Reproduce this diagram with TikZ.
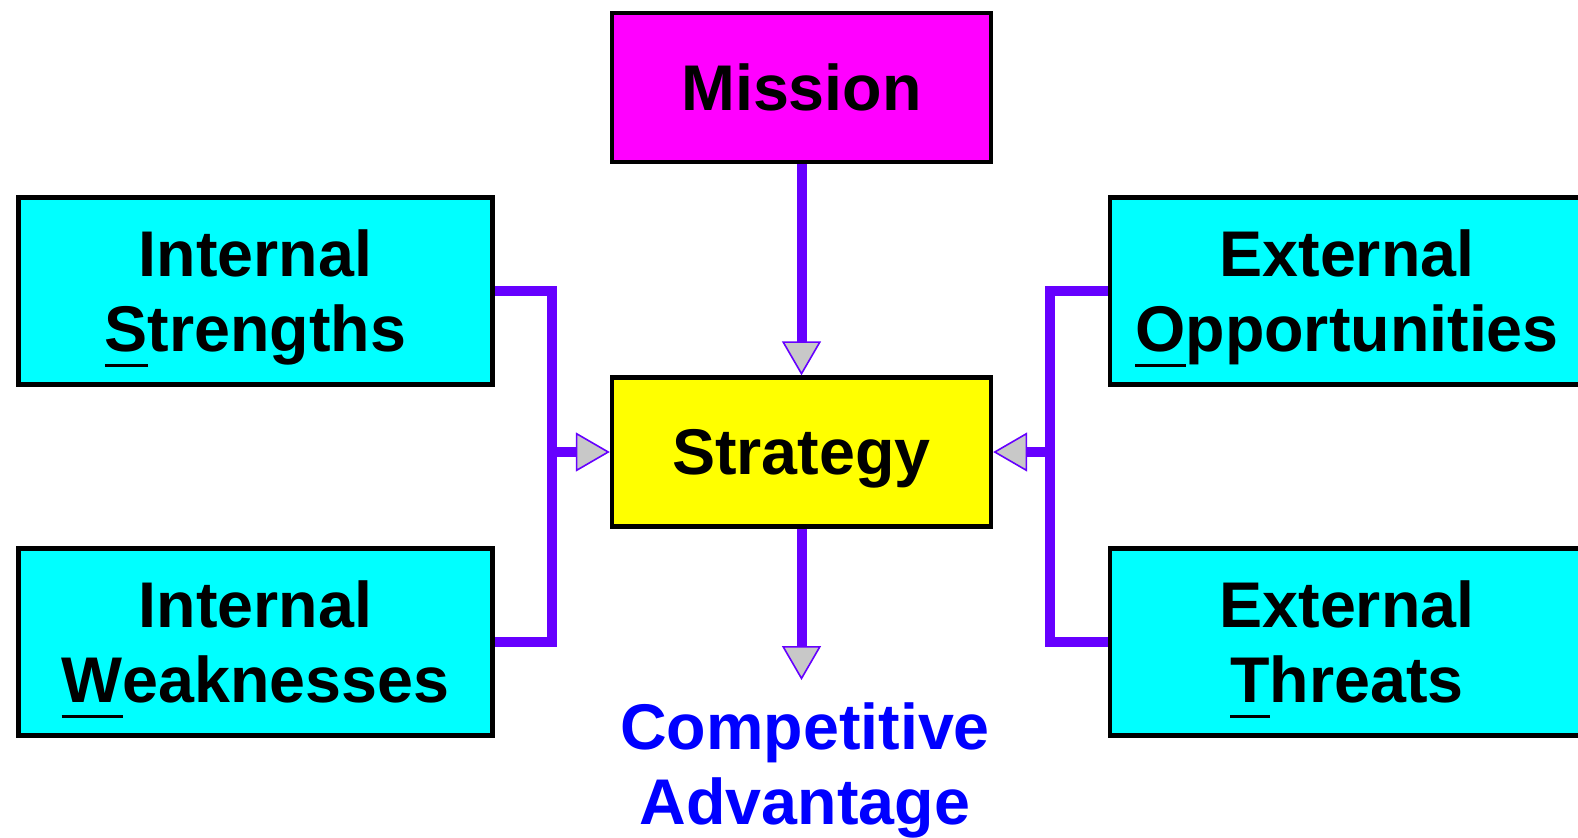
\documentclass[tikz,border=0pt]{standalone}
\usepackage{fontspec}
\setmainfont{Liberation Sans}
\usetikzlibrary{arrows.meta}
\definecolor{wire}{HTML}{6600FF}
\definecolor{tipgray}{HTML}{C8C8C8}
\definecolor{boxcyan}{HTML}{00FFFF}
\definecolor{boxmagenta}{HTML}{FF00FF}
\definecolor{boxyellow}{HTML}{FFFF00}
\definecolor{goalblue}{HTML}{0000FF}
% underline the first letter of a word, set low under the baseline
\newcommand\initial[1]{\setbox0\hbox{#1}\rlap{\rule[-7.4pt]{\wd0}{1.5pt}}\box0}
\tikzset{
  label font/.style={font=\fontsize{32.3}{37.5}\bfseries\selectfont, align=center, text depth=0pt},
  sidebox/.style={draw=black, line width=2.2pt, fill=boxcyan, inner sep=0pt,
    minimum width=237pt, minimum height=93.5pt, label font},
  corebox/.style={draw=black, line width=2.2pt, inner sep=0pt,
    minimum width=189.5pt, minimum height=74.5pt, label font},
  goal/.style={label font, text=goalblue, inner sep=0pt},
  conn/.style={draw=wire, line width=5pt},
  tip/.style={-{Triangle[length=17pt,width=19.5pt,fill=tipgray,line width=0.8pt]}}
}
\begin{document}
\begin{tikzpicture}[x=0.5pt,y=-0.5pt]
  \useasboundingbox (0,0) rectangle (1578,837);
  \clip (0,0) rectangle (1578,837);

  % boxes
  \node[corebox, fill=boxmagenta] (mi) at (801.5,87.5) {Mission};
  \node[corebox, fill=boxyellow] (st) at (801.5,452) {Strategy};
  \node[sidebox] (is) at (255.5,291) {Internal\\\initial{S}trengths};
  \node[sidebox] (iw) at (255.5,642) {Internal\\\initial{W}eaknesses};
  \node[sidebox] (eo) at (1347,291) {External\\\initial{O}pportunities};
  \node[sidebox] (et) at (1347,642) {External\\\initial{T}hreats};
  \node[goal, anchor=south] (ca) at (805,825) {Competitive\\Advantage};

  % junctions and free arrow end
  \coordinate (lj) at (552,452);
  \coordinate (rj) at (1050,452);
  \coordinate (ce) at (801.5,680);

  % connectors
  \draw[conn, tip] (mi.south) -- (st.north);
  \draw[conn] (is.east) -| (lj) |- (iw.east);
  \draw[conn, tip] (lj) -- (st.west);
  \draw[conn] (eo.west) -| (rj) |- (et.west);
  \draw[conn, tip] (rj) -- (st.east);
  \draw[conn, tip] (st.south) -- (ce);
\end{tikzpicture}
\end{document}
